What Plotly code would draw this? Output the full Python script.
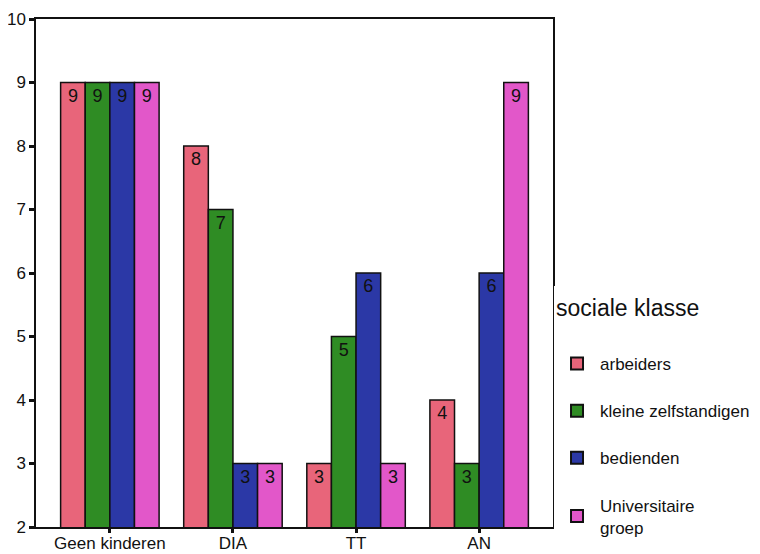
import plotly.graph_objects as go

categories = ["Geen kinderen", "DIA", "TT", "AN"]
series_names = ["arbeiders", "kleine zelfstandigen", "bedienden", "Universitaire<br>groep"]
arbeiders = [9, 8, 3, 4]
kleine_zelfstandigen = [9, 7, 5, 3]
bedienden = [9, 3, 6, 6]
universitaire_groep = [9, 3, 3, 9]
colors = ["#E8657A", "#2F8C24", "#2B38A6", "#E257C9"]
y_ticks = [2, 3, 4, 5, 6, 7, 8, 9, 10]

fig = go.Figure()
for name, vals, col in zip(series_names,
                           [arbeiders, kleine_zelfstandigen, bedienden, universitaire_groep],
                           colors):
    fig.add_trace(go.Bar(
        x=categories, y=vals, name=name, legendgroup=name,
        marker=dict(color=col, line=dict(color="#111111", width=1.5)),
        text=[str(v) for v in vals], textposition="inside",
        insidetextanchor="end", textangle=0,
        textfont=dict(family="Liberation Sans, Arial", size=18, color="#111111"),
    ))

fig.update_layout(
    width=752, height=546,
    margin=dict(l=28, r=207, t=11, b=27, autoexpand=False),
    paper_bgcolor="white", plot_bgcolor="white",
    barmode="group", bargap=0.2, bargroupgap=0,
    font=dict(family="Liberation Sans, Arial", color="#111111"),
    showlegend=True,
    legend=dict(
        x=1.002, xanchor="left", y=0.474, yanchor="top",
        title=dict(text="sociale klasse<br> ", font=dict(size=23)),
        font=dict(size=17), tracegroupgap=22,
        itemsizing="constant", itemwidth=36,
    ),
    xaxis=dict(
        range=[-0.6, 3.6], showline=True, linecolor="#111111", linewidth=1.5,
        mirror=True, ticks="outside", ticklen=4, tickwidth=3, tickcolor="#111111",
        tickfont=dict(size=17), showgrid=False, automargin=False,
        ticklabelstandoff=-4,
    ),
    yaxis=dict(
        range=[2, 10], tickvals=y_ticks, showline=True, linecolor="#111111",
        linewidth=1.5, mirror=True, ticks="outside", ticklen=5, tickwidth=3,
        tickcolor="#111111", tickfont=dict(size=17), showgrid=False, zeroline=False,
        automargin=False,
    ),
)

fig.write_html("out.html")
